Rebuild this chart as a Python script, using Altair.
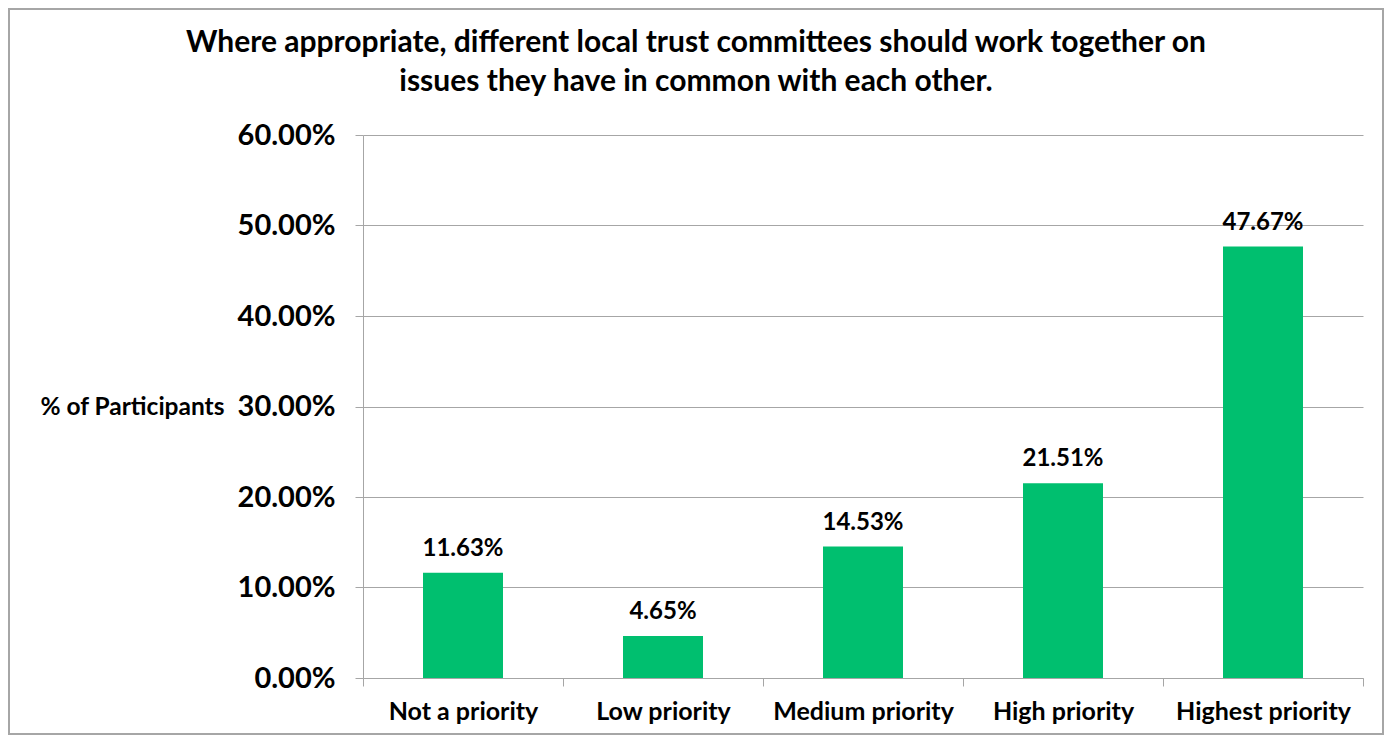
import altair as alt
import pandas as pd

categories = ["Not a priority", "Low priority", "Medium priority", "High priority", "Highest priority"]
shares = [0.1163, 0.0465, 0.1453, 0.2151, 0.4767]
title_lines = ["Where appropriate, different local trust committees should work together on",
               "issues they have in common with each other."]
y_ticks = [0.0, 0.1, 0.2, 0.3, 0.4, 0.5, 0.6]

df = pd.DataFrame({"category": categories, "share": shares})
title_df = pd.DataFrame({"line": title_lines, "row": [0, 1]})

FONT = "Lato"
GRID = "#A6A6A6"

x = alt.X("category:N", sort=categories, title=None,
          scale=alt.Scale(paddingInner=0, paddingOuter=0),
          axis=alt.Axis(labelAngle=0, labelFont=FONT, labelFontSize=25, labelFontWeight="bold",
                        labelColor="black", tickBand="extent", tickSize=8, tickColor=GRID,
                        domainColor=GRID, labelPadding=13, grid=False, labelLimit=400))
y = alt.Y("share:Q", title="% of Participants",
          scale=alt.Scale(domain=[0, 0.6], nice=False),
          axis=alt.Axis(values=y_ticks, format=".2%", labelFont=FONT, labelFontSize=29,
                        labelFontWeight="bold", labelColor="black", tickSize=8, tickColor=GRID,
                        domainColor=GRID, gridColor=GRID, labelPadding=20,
                        titleFont=FONT, titleFontSize=24.5, titleFontWeight="bold", titleColor="black",
                        titleAngle=0, titleAlign="right", titleBaseline="middle",
                        titleX=-139, titleY=272))

bars = alt.Chart(df).mark_bar(color="#00BF6F", width=alt.RelativeBandSize(0.4)).encode(x=x, y=y)
labels = alt.Chart(df).mark_text(font=FONT, fontSize=24, fontWeight="bold", color="black",
                                 baseline="alphabetic", dy=-17).encode(
    x=alt.X("category:N", sort=categories), y="share:Q", text=alt.Text("share:Q", format=".2%"))
border = alt.Chart(df).mark_rect(fill=None, stroke="#A6A6A6", strokeWidth=2).encode(
    x=alt.value(-354), x2=alt.value(1020), y=alt.value(-126), y2=alt.value(599))


def title_line(i, ypos):
    return alt.Chart(title_df).transform_filter(alt.datum.row == i).mark_text(
        font=FONT, fontSize=30, fontWeight="bold", color="black",
        align="center", baseline="alphabetic").encode(
        x=alt.value(333), y=alt.value(ypos), text="line:N")


chart = alt.layer(bars, labels, border, title_line(0, -83), title_line(1, -44)).properties(
    width=1000, height=543,
    padding={"left": 355, "top": 127, "right": 22, "bottom": 58},
    autosize=alt.AutoSizeParams(type="none"),
).configure_view(stroke=None)

chart.save("out.html", embed_options={"renderer": "svg", "actions": False})
